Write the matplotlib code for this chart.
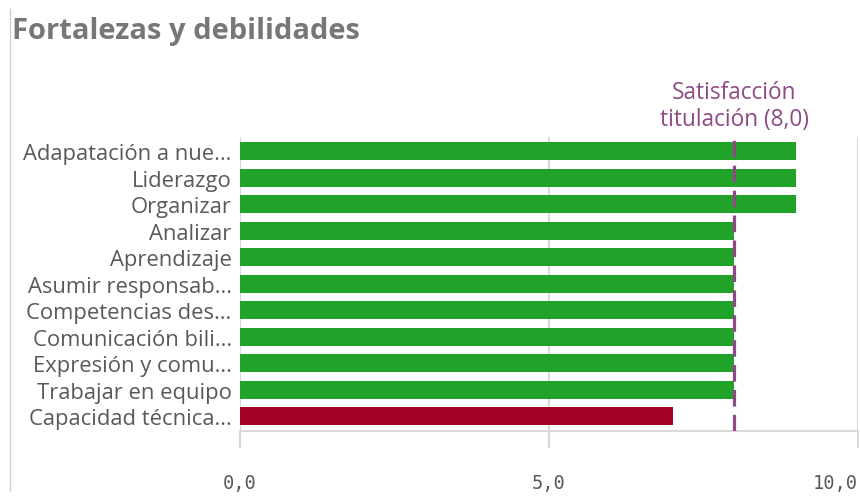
import matplotlib
matplotlib.use("Agg")
import matplotlib.pyplot as plt
from matplotlib.lines import Line2D

# Data
competencias = ["Adapatación a nue...", "Liderazgo", "Organizar", "Analizar",
                "Aprendizaje", "Asumir responsab...", "Competencias des...",
                "Comunicación bili...", "Expresión y comu...", "Trabajar en equipo",
                "Capacidad técnica..."]
valores = [9.0, 9.0, 9.0, 8.0, 8.0, 8.0, 8.0, 8.0, 8.0, 8.0, 7.0]
satisfaccion = 8.0
x_ticks = [0, 5, 10]
x_ticklabels = ["0,0", "5,0", "10,0"]

GREEN = "#21a228"
RED = "#a30024"
PURPLE = "#8e4a86"
GRID = "#d9d9d9"

plt.rcParams['font.family'] = ['Open Sans', 'DejaVu Sans']

fig = plt.figure(figsize=(8.6, 5.02), dpi=100)
ax = fig.add_axes([240/860, 1 - 432/502, 618/860, (432 - 138)/502])

colors = [GREEN if v >= satisfaccion else RED for v in valores]
ypos = list(range(len(competencias)))
ax.barh(ypos, valores, height=0.68, color=colors, zorder=3)

ax.set_ylim(len(competencias) - 0.45, -0.53)
ax.set_xlim(0, 10)

# vertical gridlines
for t in x_ticks:
    ax.axvline(t, color=GRID, lw=1.5, zorder=1)

# reference line
ax.axvline(satisfaccion, color=PURPLE, lw=2.3, ls=(0, (5.2, 2.6)), zorder=4)
ax.text(satisfaccion, -0.75, "Satisfacción\ntitulación (8,0)", color=PURPLE,
        ha="center", va="bottom", fontsize=16.3, linespacing=1.2)

ax.set_yticks(ypos)
ax.set_yticklabels(competencias, fontsize=15.8, color="#595959")
ax.tick_params(axis="y", length=0, pad=6)

ax.set_xticks(x_ticks)
ax.set_xticklabels(x_ticklabels, family="DejaVu Sans Mono", fontsize=13.5, color="#595959")
ax.tick_params(axis="x", length=12, width=1.5, color=GRID, pad=18)
ax.get_xticklabels()[-1].set_horizontalalignment("right")

for s in ["top", "right", "left"]:
    ax.spines[s].set_visible(False)
ax.spines["bottom"].set_color(GRID)
ax.spines["bottom"].set_linewidth(1.5)

fig.text(12/860, 1 - 32/502, "Fortalezas y debilidades", fontsize=21,
         fontweight="bold", color="#777777", va="center", ha="left")

fig.add_artist(Line2D([10/860, 10/860], [0.02, 0.98], transform=fig.transFigure,
                      color="#d0d0d0", lw=1))

fig.savefig("out.png", dpi=100, facecolor="w")
